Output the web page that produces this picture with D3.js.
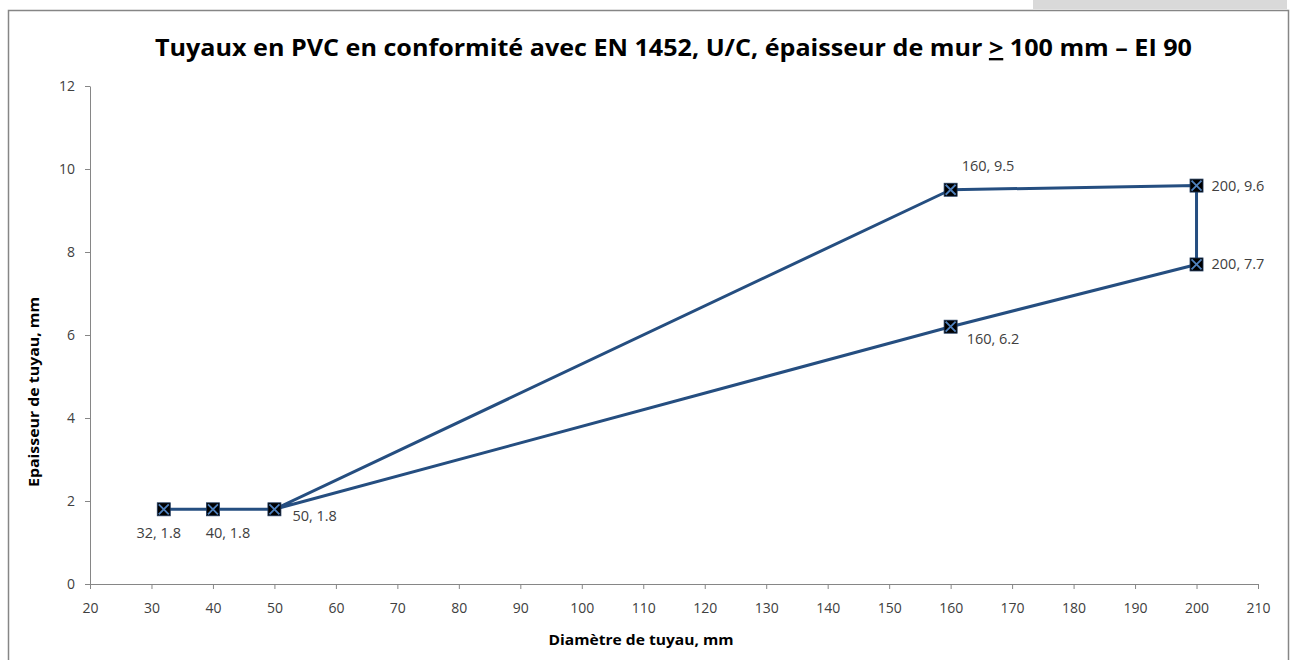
<!DOCTYPE html>
<html>
<head>
<meta charset="utf-8">
<script src="https://cdn.jsdelivr.net/npm/d3@7/dist/d3.min.js"></script>
<style>
  html, body { margin: 0; padding: 0; background: #fff; }
  svg { display: block; }
  text { font-family: "Open Sans", "Noto Sans", sans-serif; }
</style>
</head>
<body>
<svg id="chart" width="1291" height="660"></svg>
<script>
// ---- data ----
const diameters = [32, 40, 50, 160, 200, 200, 160, 50];
const thickness = [1.8, 1.8, 1.8, 9.5, 9.6, 7.7, 6.2, 1.8];
const pointLabels = ["32, 1.8", "40, 1.8", "50, 1.8", "160, 9.5", "200, 9.6", "200, 7.7", "160, 6.2", null];
const labelPlacement = ["below-left", "below-right", "right-low", "above-right", "right", "right", "below-right2", null];
const xTicks = [20, 30, 40, 50, 60, 70, 80, 90, 100, 110, 120, 130, 140, 150, 160, 170, 180, 190, 200, 210];
const yTicks = [0, 2, 4, 6, 8, 10, 12];
const titleText = "Tuyaux en PVC en conformité avec EN 1452, U/C, épaisseur de mur ";
const titleUnderlined = ">";
const titleTail = " 100 mm – EI 90";
const xTitle = "Diamètre de tuyau, mm";
const yTitle = "Epaisseur de tuyau, mm";

// ---- layout ----
const svg = d3.select("#chart");
const plot = { left: 90, right: 1258, top: 86, bottom: 584 };
const x = d3.scaleLinear().domain([20, 210]).range([plot.left, plot.right]);
const y = d3.scaleLinear().domain([0, 12]).range([plot.bottom, plot.top]);
const axisColor = "#868686";
const textColor = "#404040";

// grey tab at top-right and chart border
svg.append("rect").attr("x", 1033).attr("y", 0).attr("width", 254).attr("height", 9).attr("fill", "#d9d9d9");
svg.append("rect").attr("x", 8.5).attr("y", 10.5).attr("width", 1280).attr("height", 700)
  .attr("fill", "none").attr("stroke", axisColor).attr("stroke-width", 1.5);

// title
const title = svg.append("text")
  .attr("x", 155).attr("y", 56)
  .attr("font-size", 23.5).attr("font-weight", "bold").attr("fill", "#000")
  .attr("textLength", 1037).attr("lengthAdjust", "spacingAndGlyphs");
title.append("tspan").text(titleText);
title.append("tspan").attr("text-decoration", "underline").text(titleUnderlined);
title.append("tspan").text(titleTail);

// axes
const xAxis = d3.axisBottom(x).tickValues(xTicks).tickSize(5).tickSizeOuter(0).tickFormat(d3.format("d"));
const yAxis = d3.axisLeft(y).tickValues(yTicks).tickSize(5).tickSizeOuter(0).tickFormat(d3.format("d"));

const gx = svg.append("g").attr("transform", `translate(0,${plot.bottom})`).call(xAxis);
const gy = svg.append("g").attr("transform", `translate(${plot.left},0)`).call(yAxis);
[gx, gy].forEach(g => {
  g.selectAll("path, line").attr("stroke", axisColor).attr("stroke-width", 1);
  g.selectAll("text").attr("fill", textColor).attr("font-size", 14)
    .attr("font-family", "'Open Sans', 'Noto Sans', sans-serif");
});
gx.selectAll("text").attr("dy", null).attr("y", 29);
gy.selectAll("text").attr("x", -15).attr("dy", "0.35em");

// axis titles
svg.append("text").attr("x", 641).attr("y", 645).attr("text-anchor", "middle")
  .attr("font-size", 15).attr("font-weight", "bold").attr("fill", "#000")
  .attr("textLength", 185).attr("lengthAdjust", "spacingAndGlyphs").text(xTitle);
svg.append("text").attr("transform", "translate(39,392) rotate(-90)").attr("text-anchor", "middle")
  .attr("font-size", 15).attr("font-weight", "bold").attr("fill", "#000")
  .attr("textLength", 190).attr("lengthAdjust", "spacingAndGlyphs").text(yTitle);

// line
const pts = diameters.map((d, i) => ({ x: d, y: thickness[i], label: pointLabels[i], place: labelPlacement[i] }));
const line = d3.line().x(d => x(d.x)).y(d => y(d.y));
svg.append("path").datum(pts).attr("d", line)
  .attr("fill", "none").attr("stroke", "#254e80").attr("stroke-width", 3).attr("stroke-linejoin", "round");

// markers
const ms = 6.5;
const mk = svg.append("g").selectAll("g").data(pts.slice(0, 7)).join("g")
  .attr("transform", d => `translate(${x(d.x)},${y(d.y)})`);
mk.append("rect").attr("x", -ms).attr("y", -ms).attr("width", 2 * ms).attr("height", 2 * ms)
  .attr("fill", "#000").attr("stroke", "#1f3a5f").attr("stroke-width", 0.8);
mk.append("path").attr("d", `M${-ms + 1.5},${-ms + 1.5}L${ms - 1.5},${ms - 1.5}M${ms - 1.5},${-ms + 1.5}L${-ms + 1.5},${ms - 1.5}`)
  .attr("stroke", "#4f81bd").attr("stroke-width", 1.8);

// data labels
const offsets = {
  "below-left": { dx: -5, dy: 29, anchor: "middle" },
  "below-right": { dx: 15, dy: 29, anchor: "middle" },
  "right-low": { dx: 18, dy: 12, anchor: "start" },
  "above-right": { dx: 11, dy: -19, anchor: "start" },
  "right": { dx: 15, dy: 5, anchor: "start" },
  "below-right2": { dx: 16, dy: 17, anchor: "start" }
};
svg.append("g").selectAll("text").data(pts.filter(d => d.label)).join("text")
  .attr("x", d => x(d.x) + offsets[d.place].dx)
  .attr("y", d => y(d.y) + offsets[d.place].dy)
  .attr("text-anchor", d => offsets[d.place].anchor)
  .attr("font-size", 14.5).attr("fill", textColor)
  .text(d => d.label);
</script>
</body>
</html>
